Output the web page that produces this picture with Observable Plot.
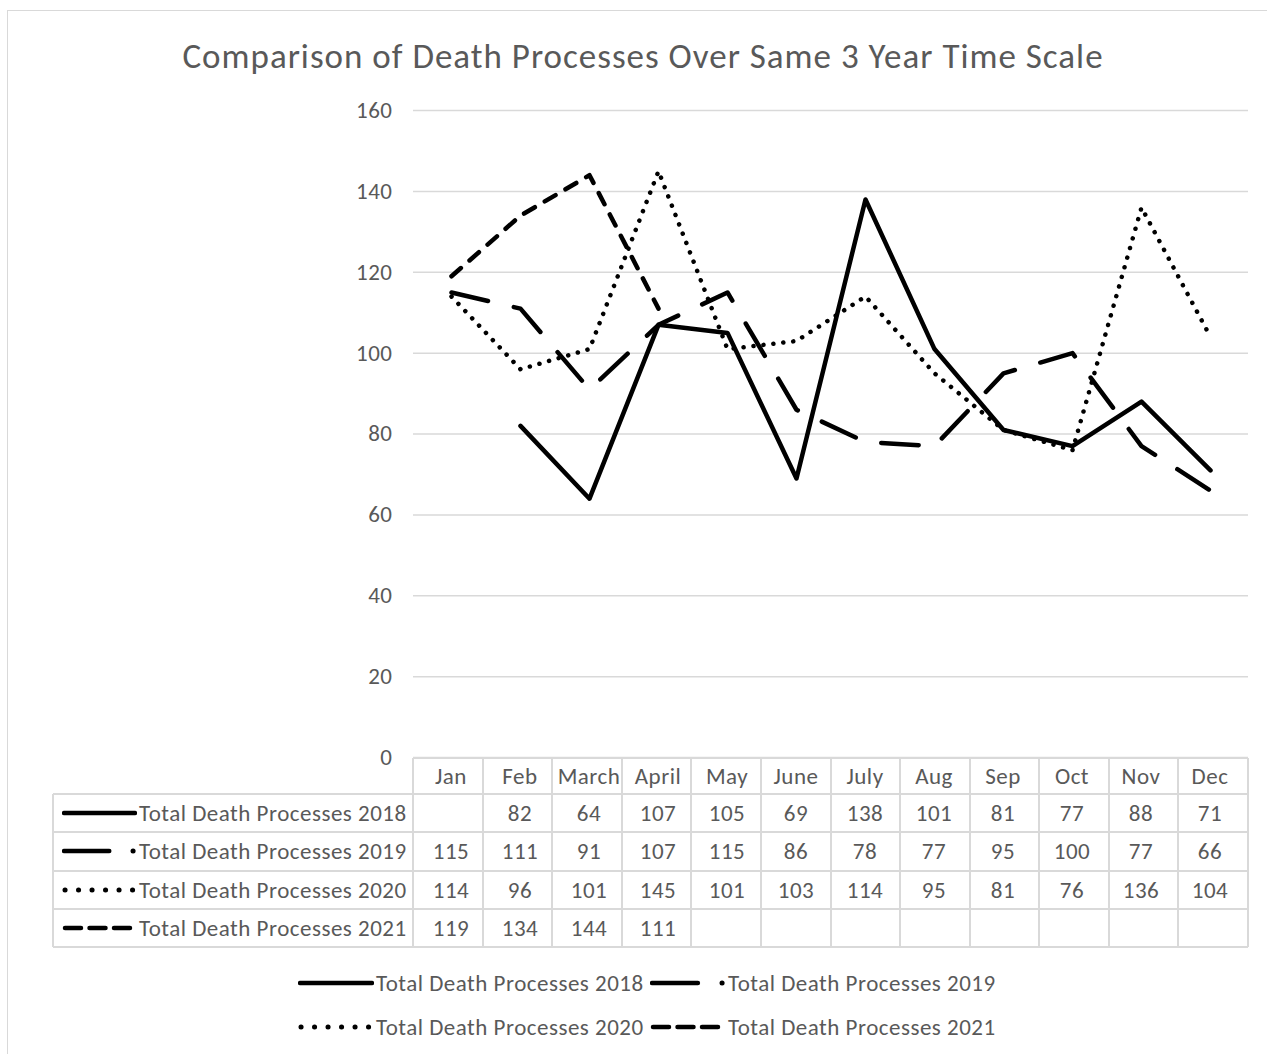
<!DOCTYPE html>
<html><head><meta charset="utf-8">
<script src="https://cdn.jsdelivr.net/npm/d3@7"></script>
<script src="https://cdn.jsdelivr.net/npm/@observablehq/plot@0.6"></script>
<style>
body{margin:0;background:#fff;}
#root{position:relative;width:1267px;height:1054px;overflow:hidden;font-family:Carlito,Lato,sans-serif;color:#595959;background:#fff;}
#frame{position:absolute;left:7px;top:10px;width:1300px;height:1100px;border:1.5px solid #d9d9d9;box-sizing:border-box;}
#title{position:absolute;left:0;width:1286px;top:35px;height:42px;line-height:42px;text-align:center;font-size:35px;letter-spacing:1px;white-space:nowrap;}
#chart{position:absolute;left:0;top:0;}
.cell{position:absolute;box-sizing:border-box;display:flex;align-items:center;justify-content:center;font-size:23px;letter-spacing:0.5px;white-space:nowrap;}
.lab{justify-content:flex-start;}
.hl{position:absolute;background:#d9d9d9;}
.leg{position:absolute;display:flex;align-items:center;font-size:23px;letter-spacing:0.5px;white-space:nowrap;height:30px;}
</style></head><body><div id="root"><div id="frame"></div><div id="title">Comparison of Death Processes Over Same 3 Year Time Scale</div><div id="chart"></div></div>
<script>
const months = ["Jan","Feb","March","April","May","June","July","Aug","Sep","Oct","Nov","Dec"];
const seriesNames = ["Total Death Processes 2018","Total Death Processes 2019","Total Death Processes 2020","Total Death Processes 2021"];
const v2018 = [null,82,64,107,105,69,138,101,81,77,88,71];
const v2019 = [115,111,91,107,115,86,78,77,95,100,77,66];
const v2020 = [114,96,101,145,101,103,114,95,81,76,136,104];
const v2021 = [119,134,144,111,null,null,null,null,null,null,null,null];
const yTicks = [0,20,40,60,80,100,120,140,160];

const allValues = [v2018, v2019, v2020, v2021];
const dashes = [null, "37.5,26.5", "0.1,9.9", "12.5,11.5"];
const toRows = (vals) => months.map((m, i) => ({month: m, value: vals[i]}));

const plot = Plot.plot({
  width: 1267,
  height: 760,
  marginLeft: 413,
  marginRight: 19,
  marginTop: 110,
  marginBottom: 3,
  style: {fontFamily: "Carlito, Lato, sans-serif", fontSize: "23px", letterSpacing: "0.5px", color: "#595959", background: "transparent", overflow: "visible"},
  x: {type: "point", domain: months, padding: 0.5, axis: null},
  y: {domain: [0, 160], label: null},
  marks: [
    Plot.gridY(yTicks, {stroke: "#d9d9d9", strokeOpacity: 1, strokeWidth: 1.5}),
    Plot.axisY(yTicks, {tickSize: 0, tickPadding: 21, fill: "#595959", label: null}),
    ...allValues.map((vals, k) => Plot.line(toRows(vals), {
      x: "month", y: "value",
      defined: d => d.value != null,
      stroke: "#000", strokeWidth: 4.5,
      strokeLinecap: "round", strokeLinejoin: "round",
      strokeDasharray: dashes[k] || undefined
    }))
  ]
});
document.getElementById("chart").appendChild(plot);

const root = document.getElementById("root");
const xs = plot.scale("x");
const step = (1248 - 413) / months.length;
const colLeft = i => xs.apply(months[i]) - step / 2;
const tableLeft = 53, labelRight = 413;
const headerTop = 758, rowTop = 794, rowH = 38.3;

function swatch(k, w) {
  const y = 8, sw = 4.5;
  let inner;
  if (k === 0) inner = `<line x1="2" y1="${y}" x2="${w-2}" y2="${y}" stroke="#000" stroke-width="${sw}" stroke-linecap="round"/>`;
  else if (k === 1) inner = `<line x1="2" y1="${y}" x2="${w*0.63}" y2="${y}" stroke="#000" stroke-width="${sw}" stroke-linecap="round"/><line x1="${w-4}" y1="${y}" x2="${w-3.9}" y2="${y}" stroke="#000" stroke-width="${sw+0.5}" stroke-linecap="round"/>`;
  else if (k === 2) inner = `<line x1="3" y1="${y}" x2="${w-2}" y2="${y}" stroke="#000" stroke-width="${sw+0.5}" stroke-linecap="round" stroke-dasharray="0.1,13.4"/>`;
  else inner = `<line x1="3" y1="${y}" x2="${w-2}" y2="${y}" stroke="#000" stroke-width="${sw}" stroke-linecap="round" stroke-dasharray="16,8.5"/>`;
  return `<svg width="${w}" height="16" style="display:block">${inner}</svg>`;
}

function addCell(x, y, w, h, html, cls) {
  const d = document.createElement("div");
  d.className = "cell" + (cls ? " " + cls : "");
  Object.assign(d.style, {left: x + "px", top: y + "px", width: w + "px", height: h + "px"});
  d.innerHTML = html;
  root.appendChild(d);
}
function hline(x, y, w) { const d = document.createElement("div"); d.className = "hl"; Object.assign(d.style, {left: x + "px", top: (y - 1) + "px", width: w + "px", height: "2px"}); root.appendChild(d); }
function vline(x, y, h) { const d = document.createElement("div"); d.className = "hl"; Object.assign(d.style, {left: (x - 1) + "px", top: y + "px", width: "2px", height: h + "px"}); root.appendChild(d); }

// header
months.forEach((m, i) => addCell(colLeft(i), headerTop, step, rowTop - headerTop, m));
// rows
allValues.forEach((vals, k) => {
  const top = rowTop + k * rowH;
  addCell(tableLeft + 9, top, labelRight - tableLeft - 9, rowH, `<span style="margin-right:2px">${swatch(k, 75)}</span><span>${seriesNames[k]}</span>`, "lab");
  vals.forEach((v, i) => addCell(colLeft(i), top, step, rowH, v == null ? "" : String(v)));
});
// grid lines of table
const bottom = rowTop + 4 * rowH;
hline(labelRight, headerTop, 1248 - labelRight);
for (let r = 0; r <= 4; r++) hline(tableLeft, rowTop + r * rowH, 1248 - tableLeft);
vline(tableLeft, rowTop, bottom - rowTop);
for (let i = 0; i <= months.length; i++) vline(labelRight + i * step, headerTop, bottom - headerTop);

// legend
const legPos = [[298, 968], [650, 968], [298, 1012], [650, 1012]];
seriesNames.forEach((name, k) => {
  const d = document.createElement("div");
  d.className = "leg";
  Object.assign(d.style, {left: legPos[k][0] + "px", top: legPos[k][1] + "px"});
  d.innerHTML = `<span style="margin-right:2px">${swatch(k, 76)}</span><span>${name}</span>`;
  root.appendChild(d);
});
</script></body></html>
